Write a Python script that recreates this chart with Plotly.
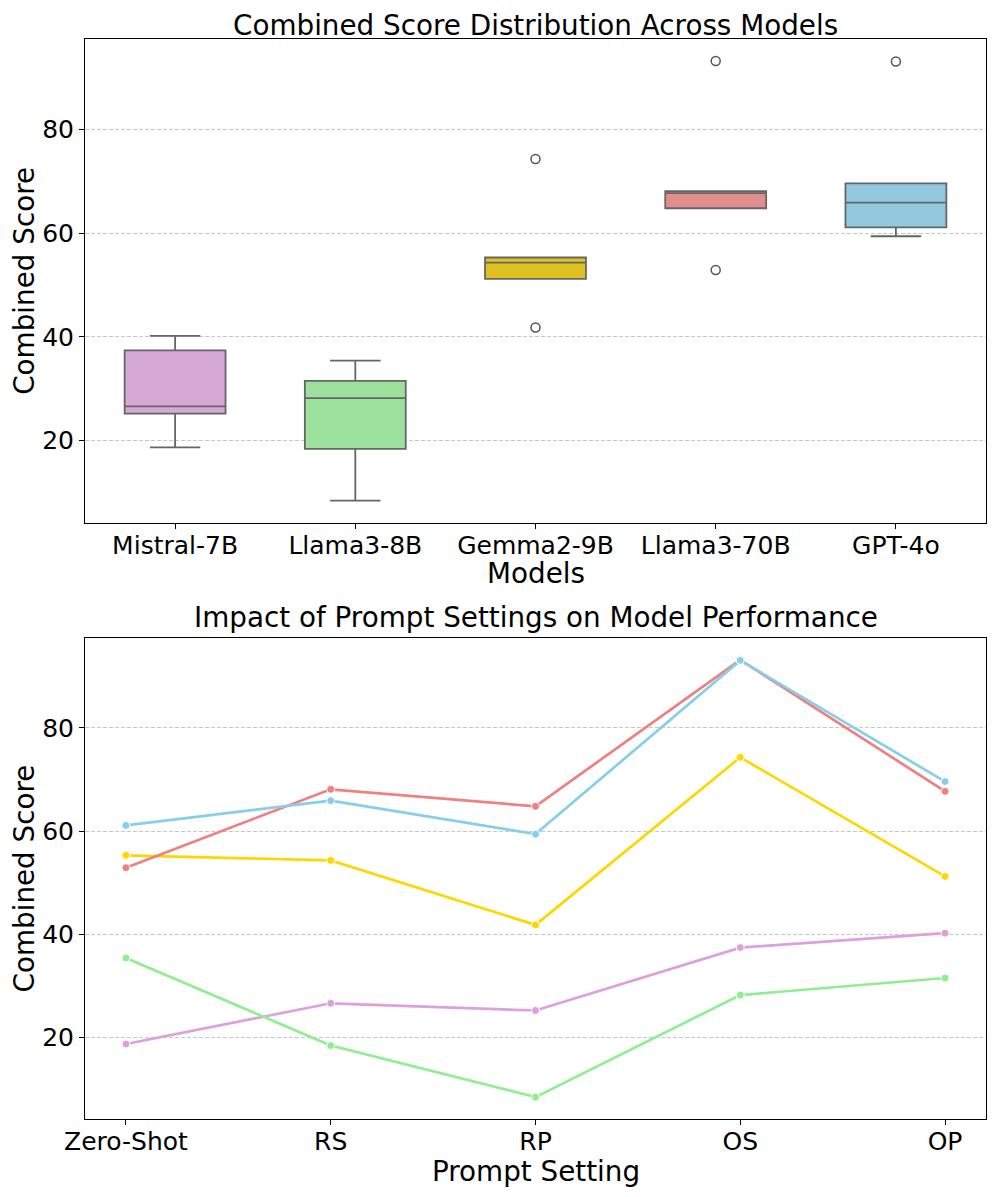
import plotly.graph_objects as go

# ---- data ----
settings = ["Zero-Shot", "RS", "RP", "OS", "OP"]
models = ["Mistral-7B", "Llama3-8B", "Gemma2-9B", "Llama3-70B", "GPT-4o"]
mistral_7b = [18.7, 26.6, 25.2, 37.4, 40.2]
llama3_8b = [35.4, 18.4, 8.4, 28.2, 31.5]
gemma2_9b = [55.3, 54.3, 41.8, 74.3, 51.2]
llama3_70b = [52.9, 68.1, 64.8, 93.2, 67.7]
gpt_4o = [61.1, 65.9, 59.4, 93.1, 69.6]
y_ticks = [20, 40, 60, 80]

series = [mistral_7b, llama3_8b, gemma2_9b, llama3_70b, gpt_4o]
line_colors = ["#DDA0DD", "#90EE90", "#FFD700", "#F08080", "#87CEEB"]
box_colors = ["#D5A8D5", "#9CE29C", "#DFC120", "#E28E8E", "#93C9DE"]

FONT = "DejaVu Sans"
OFF = 8  # page body margin
W, H = 996 - OFF, 1197 - OFF
ML, MR, MT, MB = 85 - OFF, 10, 39 - OFF, 78
PH = H - MT - MB

def py(ref_pix):
    return (H - MB - (ref_pix - OFF)) / PH

fig = go.Figure()

for name, vals, fc in zip(models, series, box_colors):
    fig.add_trace(go.Box(
        x=[name] * len(vals), y=vals, name=name,
        fillcolor=fc, line=dict(color="#666666", width=1.8),
        boxpoints="outliers", whiskerwidth=0.5, quartilemethod="inclusive",
        marker=dict(symbol="circle-open", color="#555555", size=9,
                    line=dict(width=1.5, color="#555555")),
        xaxis="x", yaxis="y", showlegend=False,
    ))

for name, vals, lc in zip(models, series, line_colors):
    fig.add_trace(go.Scatter(
        x=settings, y=vals, name=name, mode="lines+markers",
        line=dict(color=lc, width=2.7),
        marker=dict(color=lc, size=8, line=dict(color="white", width=1)),
        xaxis="x2", yaxis="y2", showlegend=False,
    ))

axis_common = dict(
    showline=True, mirror=True, linecolor="black", linewidth=1,
    ticks="outside", ticklen=5, tickwidth=1, tickcolor="black",
    tickfont=dict(family=FONT, size=25, color="black"),
    zeroline=False, automargin=False,
)
ycommon = dict(axis_common, range=[4.16, 97.44], tickvals=y_ticks,
               showgrid=True, gridcolor="#c8c8c8", gridwidth=1, griddash="4px,2px",
               title=dict(text="Combined Score", font=dict(family=FONT, size=27.8, color="black"),
                          standoff=6))
xcommon = dict(axis_common, showgrid=False, ticklabelstandoff=-5, type="category",
               categoryorder="array")

title_font = dict(family=FONT, size=27.8, color="black")

fig.update_layout(
    width=W, height=H,
    margin=dict(l=ML, r=MR, t=MT, b=MB, autoexpand=False),
    paper_bgcolor="white", plot_bgcolor="white",
    boxmode="overlay", boxgap=0.2,
    font=dict(family=FONT, color="black"),
    xaxis=dict(xcommon, domain=[0, 1], anchor="y",
               categoryarray=models, range=[-0.5, 4.5]),
    yaxis=dict(ycommon, domain=[py(522.7), 1.0], anchor="x"),
    xaxis2=dict(xcommon, domain=[0, 1], anchor="y2",
                categoryarray=settings, range=[-0.2, 4.2]),
    yaxis2=dict(ycommon, domain=[0.0, py(638)], anchor="x2"),
    annotations=[
        dict(text="Combined Score Distribution Across Models", xref="paper", yref="paper",
             x=0.5, y=py(25.5), xanchor="center", yanchor="middle", showarrow=False,
             font=title_font),
        dict(text="Impact of Prompt Settings on Model Performance", xref="paper", yref="paper",
             x=0.5, y=py(617.8), xanchor="center", yanchor="middle", showarrow=False,
             font=title_font),
        dict(text="Models", xref="paper", yref="paper",
             x=0.5, y=py(573.3), xanchor="center", yanchor="middle", showarrow=False,
             font=title_font),
        dict(text="Prompt Setting", xref="paper", yref="paper",
             x=0.5, y=py(1171), xanchor="center", yanchor="middle", showarrow=False,
             font=title_font),
    ],
)

fig.write_html("out.html")
